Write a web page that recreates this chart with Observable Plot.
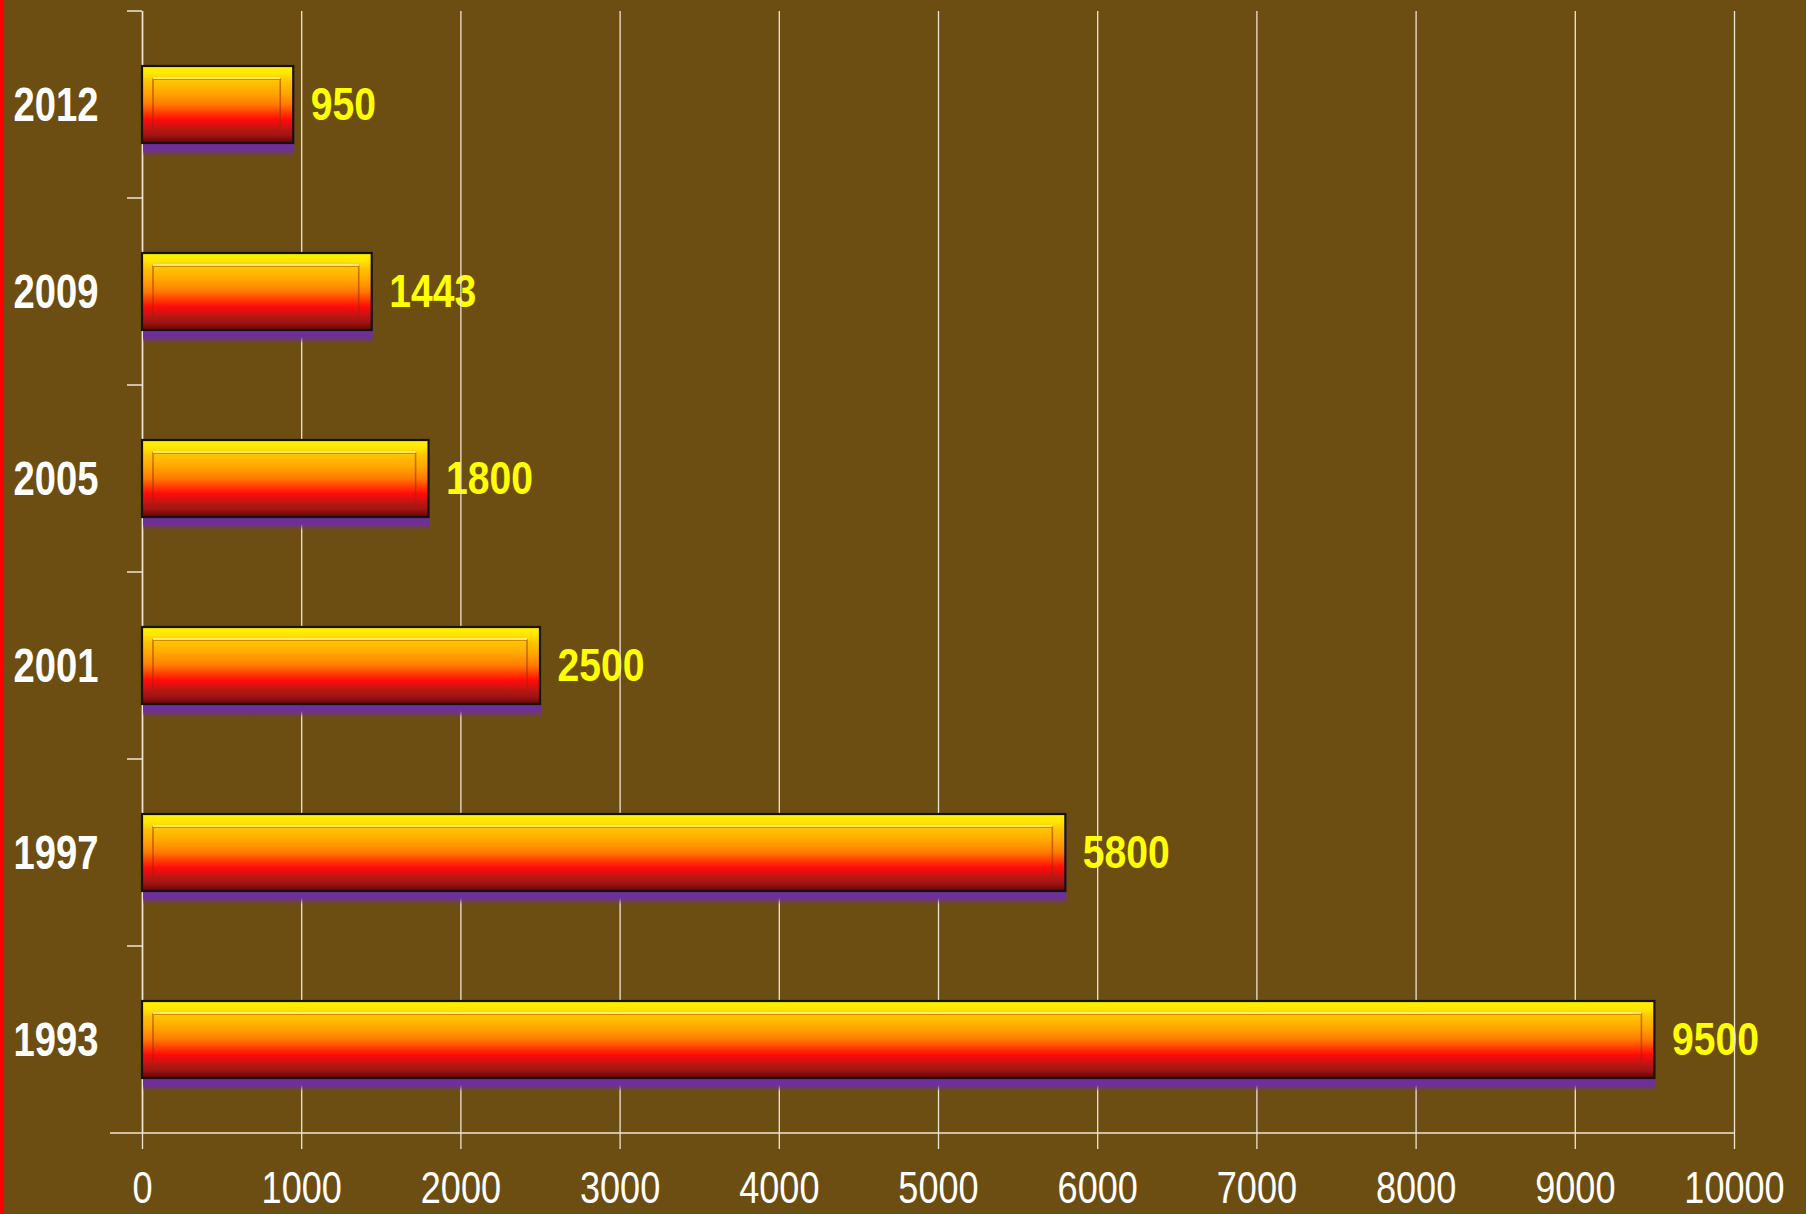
<!DOCTYPE html>
<html>
<head>
<meta charset="utf-8">
<script src="https://cdn.jsdelivr.net/npm/d3@7"></script>
<script src="https://cdn.jsdelivr.net/npm/@observablehq/plot@0.6"></script>
<style>
  html, body { margin: 0; padding: 0; background: #6C4E12; overflow: hidden; }
  #wrap { position: relative; width: 1806px; height: 1214px; }
  #edge { position: absolute; left: 0; top: 0; width: 4px; height: 1214px; background: #FF0000; }
</style>
</head>
<body>
<div id="wrap"><div id="chart"></div><div id="edge"></div></div>
<script>
// ---- data ----
const years = ["1993", "1997", "2001", "2005", "2009", "2012"];
const values = [9500, 5800, 2500, 1800, 1443, 950];
const xTicks = [0, 1000, 2000, 3000, 4000, 5000, 6000, 7000, 8000, 9000, 10000];

const data = years.map((y, i) => ({year: y, value: values[i]}));
const yearOrder = years.slice().reverse();

const gridColor = "#EDE6D6";
const font = "'Liberation Sans', Arial, sans-serif";

function defs() {
  const d = d3.create("svg:defs");
  const g = d.append("linearGradient").attr("id", "barGrad")
    .attr("x1", 0).attr("y1", 0).attr("x2", 0).attr("y2", 1);
  [[0, "#FFF200"], [0.1, "#FFE600"], [0.2, "#FFC400"], [0.35, "#FFA600"],
   [0.5, "#FF7A00"], [0.6, "#FF4000"], [0.7, "#FF0A0A"], [0.8, "#C81414"],
   [0.9, "#A01414"], [1, "#640505"]]
    .forEach(([o, c]) => g.append("stop").attr("offset", o).attr("stop-color", c));
  const s = d.append("linearGradient").attr("id", "shadowGrad")
    .attr("x1", 0).attr("y1", 0).attr("x2", 0).attr("y2", 1);
  [[0, "#6E2F9A", 1], [0.92, "#6E2F9A", 1], [1, "#6E2F9A", 0.05]]
    .forEach(([o, c, a]) => s.append("stop").attr("offset", o).attr("stop-color", c).attr("stop-opacity", a));
  return d.node();
}

function frameTicks(index, scales, values, dims) {
  const {height, marginTop, marginBottom} = dims;
  const g = d3.create("svg:g").attr("stroke", gridColor).attr("stroke-width", 1.5);
  const x0 = scales.x(0);
  const bottom = height - marginBottom;
  const step = (bottom - marginTop) / yearOrder.length;
  for (let i = 0; i < yearOrder.length; i++) {
    const yy = marginTop + i * step;
    g.append("line").attr("x1", x0 - 15).attr("x2", x0).attr("y1", yy).attr("y2", yy);
  }
  g.append("line").attr("x1", x0 - 32).attr("x2", scales.x(xTicks[xTicks.length - 1]))
    .attr("y1", bottom).attr("y2", bottom);
  return g.node();
}

const chart = Plot.plot({
  width: 1806,
  height: 1214,
  marginLeft: 142,
  marginRight: 72,
  marginTop: 11,
  marginBottom: 81,
  style: {background: "transparent", color: "white", fontFamily: font, overflow: "visible"},
  x: {domain: [0, 10000]},
  y: {domain: yearOrder, paddingInner: 0.588, paddingOuter: 0.294},
  marks: [
    defs,
    Plot.text(data, {x: "value", y: "year", text: d => String(d.value), dx: 17, textAnchor: "start",
      fill: "#FFFF00", fontSize: 46, fontWeight: "bold", fontFamily: font}),
    Plot.gridX({ticks: xTicks, stroke: gridColor, strokeOpacity: 1, strokeWidth: 1.3}),
    Plot.ruleX([0], {stroke: gridColor, strokeWidth: 1.5}),
    frameTicks,
    Plot.axisX({ticks: xTicks, tickFormat: d3.format("d"), tickSize: 16, tickPadding: 22,
      stroke: gridColor, strokeWidth: 1.3, fill: "white", fontSize: 44, fontFamily: font, label: null}),
    Plot.axisY({tickSize: 0, tickPadding: 44, fill: "white", fontSize: 49, fontWeight: "bold",
      fontFamily: font, label: null}),
    // shadow
    Plot.barX(data, {x: "value", y: "year", fill: "url(#shadowGrad)", dy: 13, dx: 1}),
    // main bar
    Plot.barX(data, {x: "value", y: "year", fill: "url(#barGrad)", stroke: "#161210", strokeWidth: 2.2}),
    // inner bevel
    Plot.barX(data, {x: "value", y: "year", fill: "none", stroke: "#9A2A00", strokeOpacity: 0.5,
      strokeWidth: 1.6, insetTop: 13, insetBottom: 13, insetLeft: 11, insetRight: 13}),
    // top highlight line
    Plot.barX(data, {x: "value", y: "year", fill: "#FFEE80", fillOpacity: 0.9,
      insetTop: 11, insetBottom: 64, insetLeft: 11, insetRight: 13})
  ]
});
document.getElementById("chart").appendChild(chart);

// condense the glyphs (the reference uses a narrow face)
function squeeze(selector, k) {
  chart.querySelectorAll(selector).forEach(t => {
    const w = t.getComputedTextLength();
    t.setAttribute("textLength", (w * k).toFixed(1));
    t.setAttribute("lengthAdjust", "spacingAndGlyphs");
  });
}
squeeze('g[aria-label="y-axis tick label"] text', 0.78);
squeeze('g[aria-label="x-axis tick label"] text', 0.82);
squeeze('g[aria-label="text"] text', 0.85);
</script>
</body>
</html>
